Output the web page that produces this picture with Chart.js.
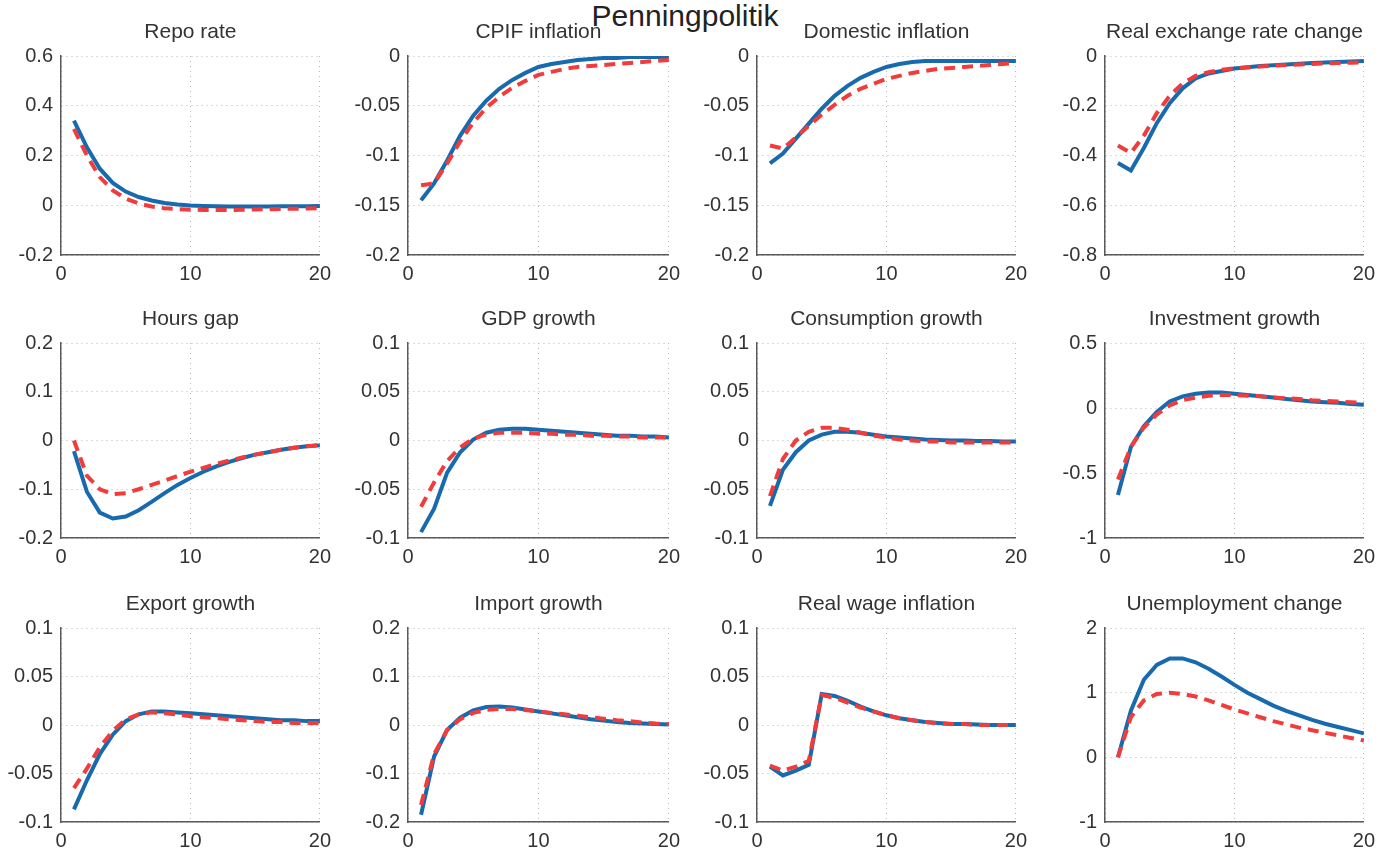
<!DOCTYPE html>
<html>
<head>
<meta charset="utf-8">
<title>Penningpolitik</title>
<script src="https://cdn.jsdelivr.net/npm/chart.js@4.4.1/dist/chart.umd.min.js"></script>
<style>
 body { margin: 0; background: #fff; overflow: hidden; }
 #page { position: relative; width: 1383px; height: 855px; }
 #main_title { position: absolute; left: 0; top: -1px; width: 1370px; text-align: center;
               font: 30px "Liberation Sans", Arial, sans-serif; color: #222; }
 canvas { position: absolute; }
</style>
</head>
<body>
<div id="page">
 <div id="main_title">Penningpolitik</div>
</div>

<script>
// quarters after the shock
const periods = [1,2,3,4,5,6,7,8,9,10,11,12,13,14,15,16,17,18,19,20];

const titles = ['Repo rate', 'CPIF inflation', 'Domestic inflation', 'Real exchange rate change',
                'Hours gap', 'GDP growth', 'Consumption growth', 'Investment growth',
                'Export growth', 'Import growth', 'Real wage inflation', 'Unemployment change'];

// y axis ticks per panel
const yMin  = [-0.2, -0.2, -0.2, -0.8, -0.2, -0.1, -0.1, -1,  -0.1, -0.2, -0.1, -1];
const yMax  = [ 0.6,  0,    0,    0,    0.2,  0.1,  0.1, 0.5,  0.1,  0.2,  0.1,  2];
const yStep = [ 0.2,  0.05, 0.05, 0.2,  0.1,  0.05, 0.05, 0.5, 0.05, 0.1,  0.05, 1];
const xTicks = [0, 10, 20];

// blue = solid line, red = dashed line
const repoBlue = [0.34,0.233,0.147,0.09,0.055,0.033,0.019,0.009,0.003,-0.001,-0.003,-0.004,-0.005,-0.005,-0.005,-0.005,-0.004,-0.004,-0.004,-0.003];
const repoRed  = [0.307,0.2,0.113,0.06,0.027,0.007,-0.005,-0.012,-0.016,-0.018,-0.019,-0.019,-0.019,-0.018,-0.017,-0.016,-0.015,-0.014,-0.013,-0.012];

const cpifBlue = [-0.145,-0.128,-0.105,-0.08,-0.06,-0.045,-0.033,-0.024,-0.017,-0.011,-0.008,-0.006,-0.004,-0.003,-0.002,-0.002,-0.001,-0.001,-0.001,-0.001];
const cpifRed  = [-0.13,-0.128,-0.108,-0.086,-0.067,-0.052,-0.041,-0.032,-0.025,-0.019,-0.016,-0.013,-0.011,-0.01,-0.009,-0.008,-0.007,-0.006,-0.005,-0.004];

const domBlue = [-0.108,-0.098,-0.083,-0.068,-0.053,-0.04,-0.03,-0.022,-0.016,-0.011,-0.008,-0.006,-0.005,-0.005,-0.005,-0.005,-0.005,-0.005,-0.005,-0.005];
const domRed  = [-0.09,-0.093,-0.082,-0.07,-0.059,-0.049,-0.04,-0.033,-0.028,-0.023,-0.02,-0.017,-0.015,-0.013,-0.012,-0.011,-0.01,-0.009,-0.008,-0.007];

const rerBlue = [-0.43,-0.46,-0.37,-0.27,-0.19,-0.13,-0.09,-0.07,-0.06,-0.05,-0.045,-0.04,-0.037,-0.034,-0.031,-0.028,-0.026,-0.024,-0.022,-0.02];
const rerRed  = [-0.36,-0.39,-0.32,-0.23,-0.16,-0.11,-0.08,-0.065,-0.055,-0.05,-0.046,-0.042,-0.039,-0.036,-0.034,-0.032,-0.03,-0.028,-0.027,-0.026];

const hoursBlue = [-0.022,-0.105,-0.148,-0.16,-0.156,-0.143,-0.126,-0.108,-0.091,-0.077,-0.064,-0.053,-0.044,-0.036,-0.029,-0.024,-0.019,-0.015,-0.012,-0.01];
const hoursRed  = [0,-0.072,-0.1,-0.11,-0.108,-0.1,-0.091,-0.082,-0.073,-0.064,-0.056,-0.048,-0.041,-0.035,-0.029,-0.024,-0.019,-0.015,-0.012,-0.009];

const gdpBlue = [-0.094,-0.07,-0.033,-0.012,0.001,0.008,0.011,0.012,0.012,0.011,0.01,0.009,0.008,0.007,0.006,0.005,0.005,0.004,0.004,0.003];
const gdpRed  = [-0.068,-0.043,-0.021,-0.007,0.002,0.006,0.008,0.008,0.008,0.007,0.007,0.006,0.006,0.005,0.005,0.004,0.004,0.003,0.003,0.003];

const consBlue = [-0.067,-0.03,-0.012,0,0.006,0.009,0.009,0.008,0.006,0.004,0.003,0.002,0.001,0.0005,0,0,-0.0005,-0.0005,-0.001,-0.001];
const consRed  = [-0.057,-0.019,0,0.009,0.013,0.013,0.011,0.008,0.005,0.003,0.001,0,-0.001,-0.001,-0.002,-0.002,-0.002,-0.002,-0.002,-0.002];

const invBlue = [-0.67,-0.3,-0.14,-0.03,0.05,0.09,0.11,0.12,0.12,0.11,0.1,0.09,0.08,0.07,0.06,0.05,0.045,0.04,0.03,0.025];
const invRed  = [-0.55,-0.3,-0.15,-0.05,0.02,0.06,0.08,0.095,0.1,0.1,0.095,0.09,0.08,0.075,0.07,0.06,0.055,0.05,0.045,0.04];

const expBlue = [-0.087,-0.057,-0.03,-0.01,0.004,0.011,0.014,0.014,0.013,0.012,0.011,0.01,0.009,0.008,0.007,0.006,0.005,0.005,0.004,0.004];
const expRed  = [-0.065,-0.045,-0.023,-0.006,0.006,0.011,0.013,0.012,0.011,0.009,0.008,0.007,0.006,0.005,0.004,0.003,0.003,0.002,0.002,0.002];

const impBlue = [-0.185,-0.065,-0.01,0.015,0.03,0.037,0.038,0.036,0.032,0.028,0.024,0.02,0.016,0.012,0.009,0.006,0.004,0.003,0.002,0.001];
const impRed  = [-0.165,-0.06,-0.01,0.012,0.025,0.031,0.033,0.033,0.031,0.028,0.025,0.022,0.019,0.016,0.013,0.01,0.008,0.005,0.003,0.002];

const wageBlue = [-0.043,-0.052,-0.047,-0.041,0.032,0.03,0.025,0.019,0.014,0.01,0.007,0.005,0.003,0.002,0.001,0.001,0.0005,0,0,0];
const wageRed  = [-0.042,-0.047,-0.043,-0.037,0.031,0.028,0.023,0.018,0.014,0.01,0.007,0.005,0.003,0.002,0.001,0.001,0,0,0,0];

const unempBlue = [0,0.72,1.2,1.43,1.53,1.53,1.47,1.37,1.25,1.12,1.0,0.9,0.8,0.72,0.65,0.58,0.52,0.47,0.42,0.37];
const unempRed  = [0,0.62,0.88,0.98,1.0,0.98,0.94,0.88,0.81,0.74,0.68,0.62,0.56,0.51,0.46,0.42,0.38,0.34,0.3,0.26];

const blueSeries = [repoBlue, cpifBlue, domBlue, rerBlue, hoursBlue, gdpBlue, consBlue, invBlue, expBlue, impBlue, wageBlue, unempBlue];
const redSeries  = [repoRed, cpifRed, domRed, rerRed, hoursRed, gdpRed, consRed, invRed, expRed, impRed, wageRed, unempRed];

// ---- layout (pixel boxes of the plot areas) ----
const plotLeft   = [61, 408, 757, 1105];
const plotRight  = [324, 673, 1020, 1368];
const plotTop    = [56, 343, 628];
const plotBottom = [255, 538, 822];

const Y_AXIS_W = 62;   // room for y tick labels
const X_AXIS_H = 30;   // room for x tick labels
const TITLE_H  = 36;   // 21px font * 1.2 + 10.8 padding
const PAD_R    = 14;

const textColor = '#333';
const fontFam = '"Liberation Sans", Arial, sans-serif';

function fmt(v) {
  return String(+Number(v).toFixed(3));
}

function axisStyle() {
  return {
    grid:   { color: '#b8b8b8', lineWidth: 1, drawTicks: false },
    border: { display: true, color: '#5a5a5a', width: 1.5, dash: [1, 4] }
  };
}

function makeChart(i) {
  const col = i % 4, row = Math.floor(i / 4);
  const w = plotRight[col] - plotLeft[col] + Y_AXIS_W + PAD_R;
  const h = plotBottom[row] - plotTop[row] + TITLE_H + X_AXIS_H;

  const cv = document.createElement('canvas');
  cv.width = w;
  cv.height = h;
  cv.style.left = (plotLeft[col] - Y_AXIS_W) + 'px';
  cv.style.top  = (plotTop[row] - TITLE_H) + 'px';
  document.getElementById('page').appendChild(cv);

  const blue = blueSeries[i].map((v, k) => ({ x: periods[k], y: v }));
  const red  = redSeries[i].map((v, k) => ({ x: periods[k], y: v }));

  const xs = axisStyle(), ys = axisStyle();

  return new Chart(cv, {
    type: 'line',
    data: {
      datasets: [{
        label: 'dashed',
        data: red,
        borderColor: '#f23c3c',
        borderWidth: 4,
        borderDash: [11, 7],
        pointRadius: 0,
        tension: 0,
        order: 0
      },
      {
        label: 'solid',
        data: blue,
        borderColor: '#176aae',
        borderWidth: 4,
        pointRadius: 0,
        tension: 0,
        order: 1
      }]
    },
    options: {
      responsive: false,
      animation: false,
      events: [],
      layout: { padding: { left: 0, top: 0, bottom: 0, right: PAD_R } },
      plugins: {
        legend: { display: false },
        tooltip: { enabled: false },
        title: {
          display: true,
          text: titles[i],
          fullSize: false,
          color: textColor,
          font: { family: fontFam, size: 21, weight: 'normal' },
          padding: { top: 0, bottom: 10.8 }
        }
      },
      scales: {
        x: {
          type: 'linear',
          min: xTicks[0],
          max: xTicks[xTicks.length - 1],
          ticks: { stepSize: xTicks[1] - xTicks[0], color: textColor, padding: 7, maxRotation: 0,
                   font: { family: fontFam, size: 20 }, callback: fmt },
          grid: xs.grid,
          border: xs.border,
          afterFit: s => { s.height = X_AXIS_H; }
        },
        y: {
          type: 'linear',
          min: yMin[i],
          max: yMax[i],
          ticks: { stepSize: yStep[i], color: textColor, padding: 8,
                   font: { family: fontFam, size: 20 }, callback: fmt },
          grid: ys.grid,
          border: ys.border,
          afterFit: s => { s.width = Y_AXIS_W; }
        }
      }
    }
  });
}

const charts = [];
for ( var i = 0; i < titles.length; i++ ) {
  charts.push(makeChart(i));
}
</script>
</body>
</html>
